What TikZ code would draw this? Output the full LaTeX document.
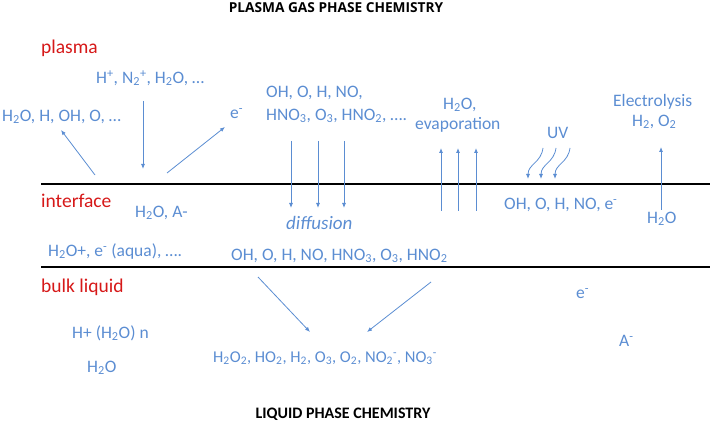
\documentclass[tikz,border=0pt]{standalone}
\usepackage{fontspec}
\setmainfont{Carlito}
\newfontfamily\titlefont{Open Sans}
\usetikzlibrary{arrows.meta}

\definecolor{chemblue}{RGB}{91,141,210}
\definecolor{zonered}{RGB}{214,24,24}
\newcommand{\su}[1]{\textsubscript{#1}}
\newcommand{\spp}[1]{\textsuperscript{#1}}

\begin{document}
\begin{tikzpicture}[x=1pt, y=-1pt,
  species/.style={anchor=mid west, inner sep=0pt, yshift=-3pt, text=chemblue, font=\fontsize{17.5}{21}\selectfont},
  zone/.style={anchor=mid west, inner sep=0pt, yshift=-3pt, text=zonered, font=\fontsize{19.5}{23}\selectfont},
  heading/.style={inner sep=0pt, font=\fontsize{16}{19}\selectfont\bfseries},
  flow/.style={chemblue, line width=0.8pt, -{Latex[length=5pt,width=4pt]}},
  layer/.style={black, line width=1.4pt}]
\useasboundingbox (0,0) rectangle (712,422);

\node[heading, font=\fontsize{13.7}{16}\selectfont\titlefont\bfseries] (gas title) at (336, 8) {PLASMA GAS PHASE CHEMISTRY};
\node[heading] (liquid title) at (343, 414) {LIQUID PHASE CHEMISTRY};

\coordinate (gas left) at (41, 184);
\coordinate (gas right) at (710, 184);
\coordinate (liquid left) at (41, 267);
\coordinate (liquid right) at (710, 267);
\draw[layer] (gas left) -- (gas right);
\draw[layer] (liquid left) -- (liquid right);

\node[zone] (plasma) at (41, 48) {plasma};
\node[zone] (interface) at (41, 202) {interface};
\node[zone] (bulk) at (41, 287) {bulk liquid};

% plasma side
\node[species] (ions) at (96, 78) {H\spp{+}, N\su{2}\spp{+}, H\su{2}O, \dots};
\node[species] (sputtered) at (2, 116) {H\su{2}O, H, OH, O, \dots};
\node[species] (electron) at (230, 113) {e\spp{-}};
\node[species] (radicals a) at (266, 92) {OH, O, H, NO,};
\node[species] (radicals b) at (266, 115) {HNO\su{3}, O\su{3}, HNO\su{2}, \dots.};
\node[species] (evap a) at (443, 104) {H\su{2}O,};
\node[species] (evap b) at (415, 124) {evaporation};
\node[species] (uv) at (547, 133) {UV};
\node[species] (electro a) at (613, 101) {Electrolysis};
\node[species] (electro b) at (632, 121) {H\su{2}, O\su{2}};

\coordinate (sputter foot) at (95, 175);
\coordinate (sputter tip) at (61, 130);
\coordinate (ion top) at (143, 101);
\coordinate (ion tip) at (143, 169);
\coordinate (e foot) at (167, 173);
\coordinate (e tip) at (225, 127);
\draw[flow] (sputter foot) -- (sputter tip);
\draw[flow] (ion top) -- (ion tip);
\draw[flow] (e foot) -- (e tip);

\foreach \x in {291, 318, 344} {
  \draw[flow] (\x, 141) -- (\x, 208);
}
\foreach \x in {441, 458, 476} {
  \draw[flow] (\x, 211) -- (\x, 148);
}
\foreach \x in {0, 13, 27} {
  \draw[flow] (543+\x, 148) .. controls (541+\x, 163) and (528+\x, 164) .. (528+\x, 179);
}
\coordinate (electro foot) at (661, 210);
\coordinate (electro tip) at (661, 147);
\draw[flow] (electro foot) -- (electro tip);

% interface
\node[species] (water anion) at (135, 212) {H\su{2}O, A-};
\node[species, font=\fontsize{19}{22}\selectfont\itshape] (diffusion) at (286, 224) {diffusion};
\node[species] (aqua) at (48, 251) {H\su{2}O+, e\spp{-} (aqua), \dots.};
\node[species] (dissolved) at (231, 255) {OH, O, H, NO, HNO\su{3}, O\su{3}, HNO\su{2}};
\node[species] (uv products) at (504, 204) {OH, O, H, NO, e\spp{-}};
\node[species] (electro water) at (647, 218) {H\su{2}O};

% bulk liquid
\node[species] (cluster) at (72, 333) {H+ (H\su{2}O) n};
\node[species] (bulk water) at (87, 367) {H\su{2}O};
\node[species, font=\fontsize{16.5}{20}\selectfont] (products) at (213, 357) {H\su{2}O\su{2}, HO\su{2}, H\su{2}, O\su{3}, O\su{2}, NO\su{2}\spp{-}, NO\su{3}\spp{-}};
\node[species] (bulk e) at (576, 293) {e\spp{-}};
\node[species] (anion) at (619, 341) {A\spp{-}};

\coordinate (left foot) at (258, 277);
\coordinate (left tip) at (310, 332);
\coordinate (right foot) at (431, 282);
\coordinate (right tip) at (367, 332);
\draw[flow] (left foot) -- (left tip);
\draw[flow] (right foot) -- (right tip);

\end{tikzpicture}
\end{document}
